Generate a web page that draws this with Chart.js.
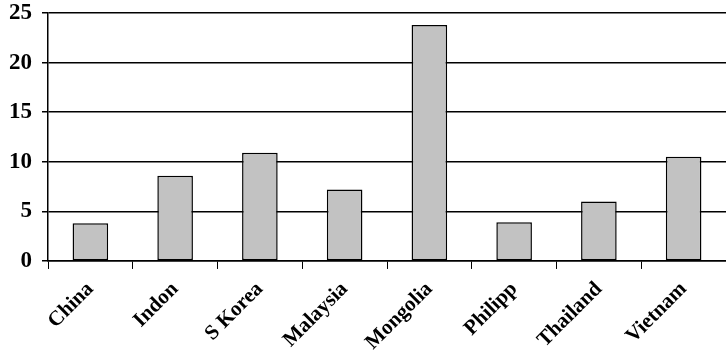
<!DOCTYPE html>
<html lang="en">
<head>
    <meta charset="UTF-8">
    <title>Bar chart</title>
    <style>
        body { margin: 0; background: #fff; }
        #wrap { width: 726px; height: 363px; }
    </style>
</head>
<body>
    <div id="wrap">
        <canvas id="grafica" width="726" height="363"></canvas>
    </div>
    <script src="https://cdn.jsdelivr.net/npm/chart.js"></script>
    <script>
        var paises = ['China', 'Indon', 'S Korea', 'Malaysia', 'Mongolia', 'Philipp', 'Thailand', 'Vietnam'];
        var valores = [3.8, 8.6, 10.9, 7.2, 23.8, 3.9, 6.0, 10.5];
        var yTicks = [0, 5, 10, 15, 20, 25];

        var fuente = "'Liberation Serif', 'Times New Roman', Times, serif";
        var ctx = document.getElementById('grafica').getContext('2d');
        var myChart = new Chart(ctx, {
            type: 'bar',
            data: {
                labels: paises,
                datasets: [{
                    data: valores,
                    backgroundColor: '#c2c2c2',
                    borderColor: '#000',
                    borderWidth: 1.5,
                    borderSkipped: false,
                    categoryPercentage: 1,
                    barPercentage: 0.42
                }]
            },
            options: {
                responsive: false,
                animation: false,
                layout: { padding: { top: 13, right: -6, left: 0, bottom: 0 } },
                plugins: {
                    legend: { display: false },
                    tooltip: { enabled: false }
                },
                scales: {
                    x: {
                        grid: {
                            drawOnChartArea: false,
                            color: '#000',
                            lineWidth: 1,
                            tickLength: 8
                        },
                        border: { color: '#000', width: 1.5 },
                        ticks: {
                            color: '#000',
                            minRotation: 45,
                            maxRotation: 45,
                            padding: 8,
                            font: { family: fuente, size: 21, weight: 'bold' }
                        }
                    },
                    y: {
                        min: 0,
                        max: 25,
                        afterBuildTicks: function(axis) {
                            axis.ticks = yTicks.map(function(v) { return { value: v }; });
                        },
                        afterFit: function(axis) {
                            axis.width = 48;
                            axis.paddingTop = 0;
                            axis.paddingBottom = 0;
                        },
                        grid: {
                            color: '#000',
                            lineWidth: 1.5,
                            tickLength: 6
                        },
                        border: { color: '#000', width: 1.5 },
                        ticks: {
                            color: '#000',
                            padding: 10,
                            font: { family: fuente, size: 23, weight: 'bold', lineHeight: 0.8 }
                        }
                    }
                }
            }
        });
    </script>
</body>
</html>
